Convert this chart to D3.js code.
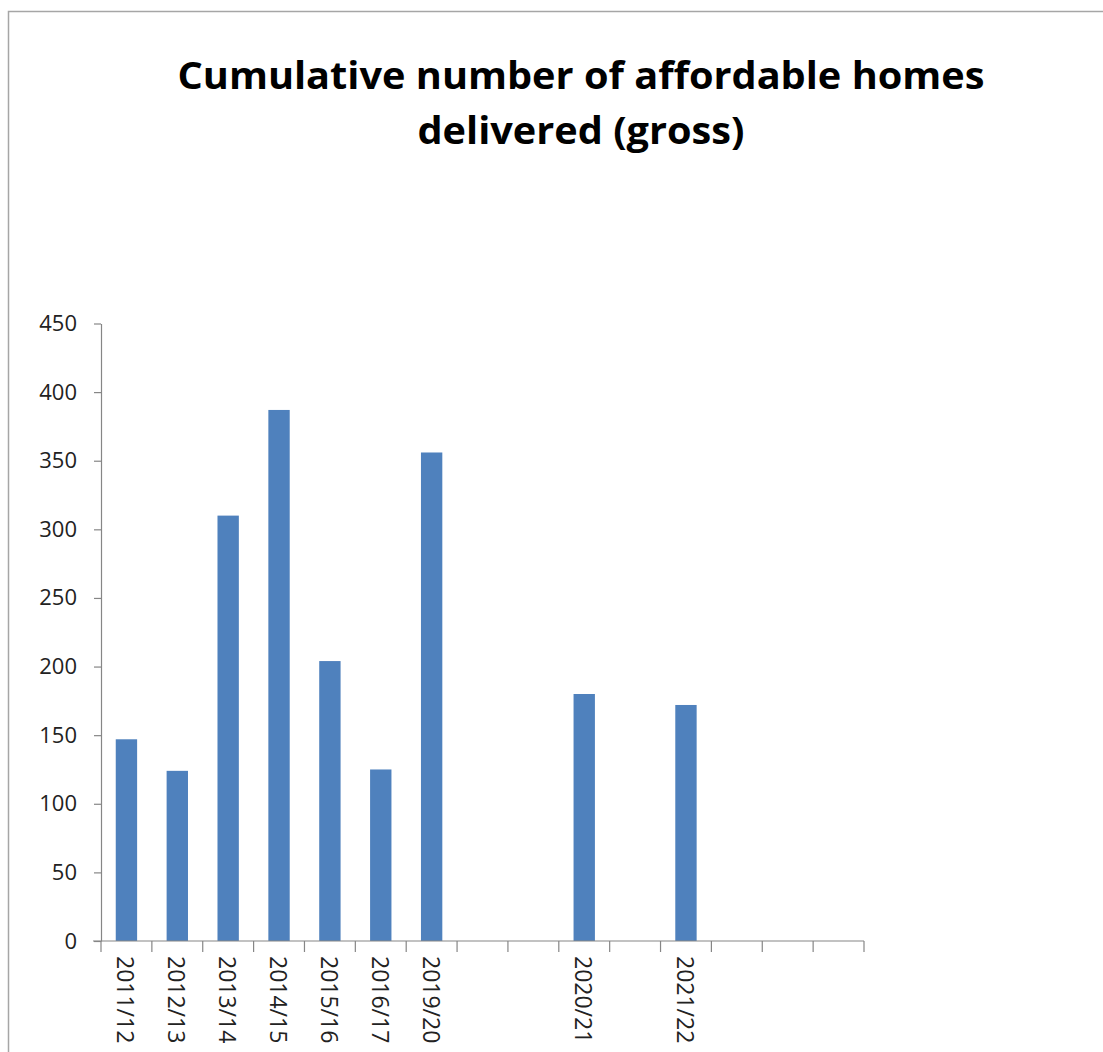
<!DOCTYPE html>
<html>
<head>
<meta charset="utf-8">
<script src="https://cdn.jsdelivr.net/npm/d3@7"></script>
<style>
  html, body { margin: 0; padding: 0; background: #fff; }
  svg { display: block; }
</style>
</head>
<body>
<svg id="chart" width="1103" height="1052"></svg>
<script>
// ---- data ----
const categories = ["2011/12", "2012/13", "2013/14", "2014/15", "2015/16", "2016/17", "2019/20", "", "", "2020/21", "", "2021/22", "", "", ""];
const values = [147, 124, 310, 387, 204, 125, 356, null, null, 180, null, 172, null, null, null];
const yTicks = [0, 50, 100, 150, 200, 250, 300, 350, 400, 450];
const titleLines = ["Cumulative number of affordable homes", "delivered (gross)"];

const svg = d3.select("#chart");

// frame
svg.append("path")
  .attr("d", "M8.5,1052 L8.5,11.5 L1103,11.5")
  .attr("fill", "none").attr("stroke", "#a6a6a6").attr("stroke-width", 1.5);

// title
const titleWidths = [807, 327];
svg.selectAll("text.title").data(titleLines).enter().append("text")
  .attr("class", "title")
  .attr("x", 581)
  .attr("y", (d, i) => 89 + i * 55)
  .attr("text-anchor", "middle")
  .attr("font-family", "'Open Sans', 'DejaVu Sans', sans-serif")
  .attr("font-weight", "bold")
  .attr("font-size", 37)
  .attr("fill", "#000")
  .attr("textLength", (d, i) => titleWidths[i])
  .attr("lengthAdjust", "spacingAndGlyphs")
  .text(d => d);

// scales
const idx = categories.map((c, i) => i);
const x = d3.scaleBand().domain(idx).range([101, 864]).paddingInner(0.58).paddingOuter(0.29);
const y = d3.scaleLinear().domain([0, 450]).range([941, 323.5]);

// bars
svg.append("g").selectAll("rect")
  .data(idx.filter(i => values[i] != null))
  .enter().append("rect")
  .attr("x", i => x(i))
  .attr("width", x.bandwidth())
  .attr("y", i => y(values[i]))
  .attr("height", i => y(0) - y(values[i]))
  .attr("fill", "#4f81bd");

// y axis
const yAxis = svg.append("g")
  .attr("transform", "translate(101,0)")
  .call(d3.axisLeft(y).tickValues(yTicks).tickSize(7).tickPadding(17).tickSizeOuter(0));
yAxis.select(".domain").attr("stroke", "#868686").attr("stroke-width", 1.2);
yAxis.selectAll(".tick line").attr("stroke", "#868686").attr("stroke-width", 1.2);
yAxis.selectAll(".tick text")
  .attr("font-family", "'Open Sans', 'DejaVu Sans', sans-serif")
  .attr("font-size", 22)
  .attr("fill", "#222");

// x axis line and ticks (category boundaries)
const step = x.step();
const x0 = x.range()[0];
const xg = svg.append("g");
xg.append("line")
  .attr("x1", x0 - 8).attr("x2", x.range()[1])
  .attr("y1", y(0)).attr("y2", y(0))
  .attr("stroke", "#868686").attr("stroke-width", 1.2);
xg.selectAll("line.tk").data(d3.range(categories.length + 1)).enter().append("line")
  .attr("class", "tk")
  .attr("x1", i => x0 + i * step).attr("x2", i => x0 + i * step)
  .attr("y1", y(0)).attr("y2", y(0) + 11)
  .attr("stroke", "#868686").attr("stroke-width", 1.2);

// x labels, rotated
xg.selectAll("text.xl").data(idx.filter(i => categories[i] !== "")).enter().append("text")
  .attr("class", "xl")
  .attr("transform", i => `translate(${x(i) + x.bandwidth() / 2},956) rotate(90)`)
  .attr("text-anchor", "start")
  .attr("dominant-baseline", "central")
  .attr("font-family", "'Open Sans', 'DejaVu Sans', sans-serif")
  .attr("font-size", 23)
  .attr("fill", "#222")
  .text(i => categories[i]);
</script>
</body>
</html>
